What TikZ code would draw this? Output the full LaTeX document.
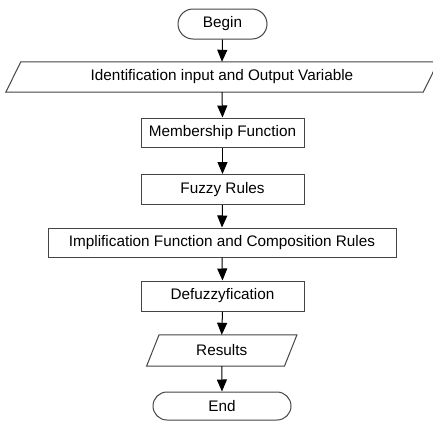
\documentclass[tikz,border=0pt]{standalone}
\usepackage{fontspec}
\setmainfont{Liberation Sans}
\usetikzlibrary{arrows.meta,shapes.misc}
\definecolor{edgegray}{HTML}{454545}
\begin{document}
\begin{tikzpicture}[x=1pt,y=-1pt,
  every node/.style={font=\fontsize{15.3}{18}\selectfont, inner sep=0pt, text=black},
  termbox/.style={draw=edgegray, line width=1pt, rounded rectangle},
  procbox/.style={draw=edgegray, line width=1pt, rectangle, minimum width=163pt, minimum height=29pt},
  iobox/.style={rectangle, draw=none},
  ioline/.style={draw=edgegray, line width=1pt, line join=miter},
  flow/.style={draw=black, line width=1pt, -{Triangle[length=12pt,width=10pt]}}
]
\clip (0,0) rectangle (433,421);
\useasboundingbox (0,0) rectangle (433,421);
\fill[white] (0,0) rectangle (433,421);

\node[termbox, minimum width=89pt, minimum height=30pt] (begin) at (222.5,24) {Begin};
\node[iobox, minimum width=417pt, minimum height=30pt] (inp) at (222,77) {Identification input and Output Variable};
\node[procbox] (memb) at (222.5,132.5) {Membership Function};
\node[procbox, minimum height=30pt] (fuzzy) at (222.5,189.5) {Fuzzy Rules};
\node[procbox, minimum width=348pt] (impl) at (222,242.5) {Implification Function and Composition Rules};
\node[procbox, minimum height=30pt] (defuz) at (222.5,296) {Defuzzyfication};
\node[iobox, minimum width=137.5pt, minimum height=31pt] (res) at (221.75,350.5) {Results};
\node[termbox, minimum width=138pt, minimum height=28pt] (end) at (222,406) {End};

\path[ioline] ([xshift=-7.5pt]inp.south west) -- ([xshift=7.5pt]inp.north west)
  -- ([xshift=7.5pt]inp.north east) -- ([xshift=-7.5pt]inp.south east) -- cycle;
\path[ioline] ([xshift=-6.25pt]res.south west) -- ([xshift=6.25pt]res.north west)
  -- ([xshift=6.25pt]res.north east) -- ([xshift=-6.25pt]res.south east) -- cycle;

\draw[flow] (begin.south) -- (inp.north);
\draw[flow] (inp.south) -- (memb.north);
\draw[flow] (memb.south) -- (fuzzy.north);
\draw[flow] (fuzzy.south) -- (impl.north);
\draw[flow] (impl.south) -- (defuz.north);
\draw[flow] (defuz.south) -- (res.north);
\draw[flow] (res.south) -- (end.north);
\end{tikzpicture}
\end{document}
